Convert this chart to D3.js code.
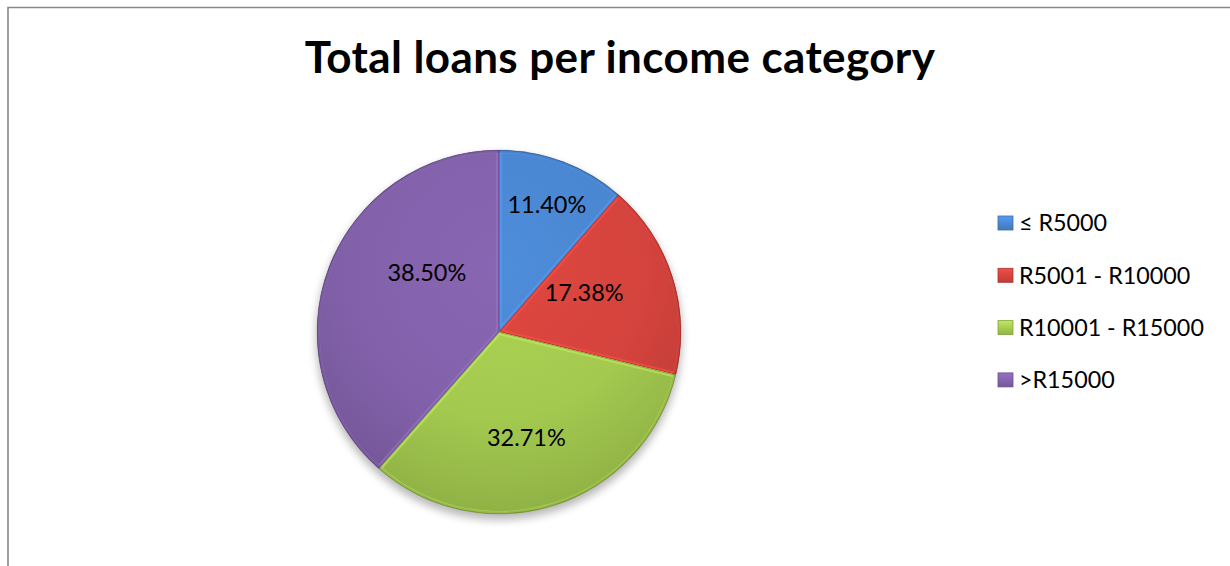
<!DOCTYPE html>
<html>
<head>
<meta charset="utf-8">
<script src="https://cdn.jsdelivr.net/npm/d3@7"></script>
<style>
  html, body { margin: 0; padding: 0; background: #fff; }
  svg { display: block; }
  text { font-family: Lato, "Open Sans", sans-serif; fill: #000; }
</style>
</head>
<body>
<svg id="chart" width="1230" height="566"></svg>
<script>
// Share of total loans per monthly income band (percent)
const categories = ["≤ R5000", "R5001 - R10000", "R10001 - R15000", ">R15000"];
const shares = [11.40, 17.38, 32.71, 38.50];
const labels = ["11.40%", "17.38%", "32.71%", "38.50%"];
const colors = ["#4A86D0", "#D4433D", "#A3C94F", "#8261AA"];

const width = 1230, height = 566;
const cx = 499, cy = 332, R = 182;

// label placement inside each slice: fraction of radius and angle nudge (deg)
const labelPlacement = [
  { r: 0.75, shift: 0 },
  { r: 0.515, shift: -7 },
  { r: 0.6, shift: 3 },
  { r: 0.515, shift: 19 }
];

const svg = d3.select("#chart");
const defs = svg.append("defs");

// frame (top and left edges of the chart area)
svg.append("path")
  .attr("d", `M8,${height} V7.5 H${width}`)
  .attr("fill", "none")
  .attr("stroke", "#878787")
  .attr("stroke-width", 1.6);

// title
svg.append("text")
  .attr("x", 620)
  .attr("y", 73)
  .attr("text-anchor", "middle")
  .style("font-weight", "bold")
  .style("font-size", "44px")
  .style("letter-spacing", "0.4px")
  .text("Total loans per income category");

// soft drop shadow under the pie
const blur = defs.append("filter").attr("id", "shadow")
  .attr("x", "-20%").attr("y", "-20%").attr("width", "140%").attr("height", "140%");
blur.append("feGaussianBlur").attr("stdDeviation", 4);

const color = d3.scaleOrdinal().domain(categories).range(colors);

const pie = d3.pie().sort(null).value(d => d.value);
const arcs = pie(categories.map((c, i) => ({ key: c, value: shares[i], label: labels[i] })));
const arc = d3.arc().innerRadius(0).outerRadius(R);

const g = svg.append("g").attr("transform", `translate(${cx},${cy})`);

g.append("circle")
  .attr("cx", 0).attr("cy", 5).attr("r", R + 1)
  .attr("fill", "#000").attr("opacity", 0.28)
  .attr("filter", "url(#shadow)");

// per-slice shading gradients (lit from the top)
arcs.forEach((a, i) => {
  const base = d3.color(color(a.data.key));
  const grad = defs.append("radialGradient")
    .attr("id", "shade" + i)
    .attr("gradientUnits", "userSpaceOnUse")
    .attr("cx", 0).attr("cy", -R * 0.35).attr("r", R * 1.5);
  grad.append("stop").attr("offset", "0%").attr("stop-color", base.brighter(0.15));
  grad.append("stop").attr("offset", "55%").attr("stop-color", base);
  grad.append("stop").attr("offset", "100%").attr("stop-color", base.darker(0.45));
  defs.append("clipPath").attr("id", "clip" + i)
    .append("path").attr("d", arc(a));
});

const slices = g.selectAll("g.slice").data(arcs).join("g").attr("class", "slice");

slices.append("path")
  .attr("d", arc)
  .attr("fill", (d, i) => `url(#shade${i})`);

// bevel highlight along slice edges
slices.append("path")
  .attr("d", arc)
  .attr("fill", "none")
  .attr("clip-path", (d, i) => `url(#clip${i})`)
  .attr("stroke", d => d3.color(color(d.data.key)).brighter(0.5))
  .attr("stroke-width", 6)
  .attr("stroke-opacity", 0.55);

// darker inner rim of the bevel
slices.append("path")
  .attr("d", arc)
  .attr("fill", "none")
  .attr("clip-path", (d, i) => `url(#clip${i})`)
  .attr("stroke", d => d3.color(color(d.data.key)).darker(0.8))
  .attr("stroke-width", 1.6)
  .attr("stroke-opacity", 0.7);

// outer rim shading
g.append("circle")
  .attr("r", R - 1)
  .attr("fill", "none")
  .attr("stroke", "#000")
  .attr("stroke-opacity", 0.12)
  .attr("stroke-width", 3);

// value labels
slices.append("text")
  .attr("transform", (d, i) => {
    const p = labelPlacement[i];
    const a = (d.startAngle + d.endAngle) / 2 + p.shift * Math.PI / 180;
    const r = p.r * R;
    return `translate(${r * Math.sin(a)},${-r * Math.cos(a)})`;
  })
  .attr("dy", "0.36em")
  .attr("text-anchor", "middle")
  .style("font-size", "23.5px")
  .text(d => d.data.label);

// legend
const legend = svg.append("g").attr("transform", "translate(998,223)");
const rowStep = 52.3;
const item = legend.selectAll("g").data(categories).join("g")
  .attr("transform", (d, i) => `translate(0,${i * rowStep})`);

categories.forEach((c, i) => {
  const base = d3.color(color(c));
  const lg = defs.append("linearGradient").attr("id", "lg" + i)
    .attr("x1", 0).attr("y1", 0).attr("x2", 0).attr("y2", 1);
  lg.append("stop").attr("offset", "0%").attr("stop-color", base.brighter(0.4));
  lg.append("stop").attr("offset", "100%").attr("stop-color", base.darker(0.3));
});

item.append("rect")
  .attr("x", 0).attr("y", -7)
  .attr("width", 15).attr("height", 14)
  .attr("fill", (d, i) => `url(#lg${i})`)
  .attr("stroke", d => d3.color(color(d)).darker(0.6))
  .attr("stroke-width", 0.8);

item.append("text")
  .attr("x", 21)
  .attr("y", 0)
  .attr("dy", "0.36em")
  .style("font-size", "23.3px")
  .text(d => d);
</script>
</body>
</html>
